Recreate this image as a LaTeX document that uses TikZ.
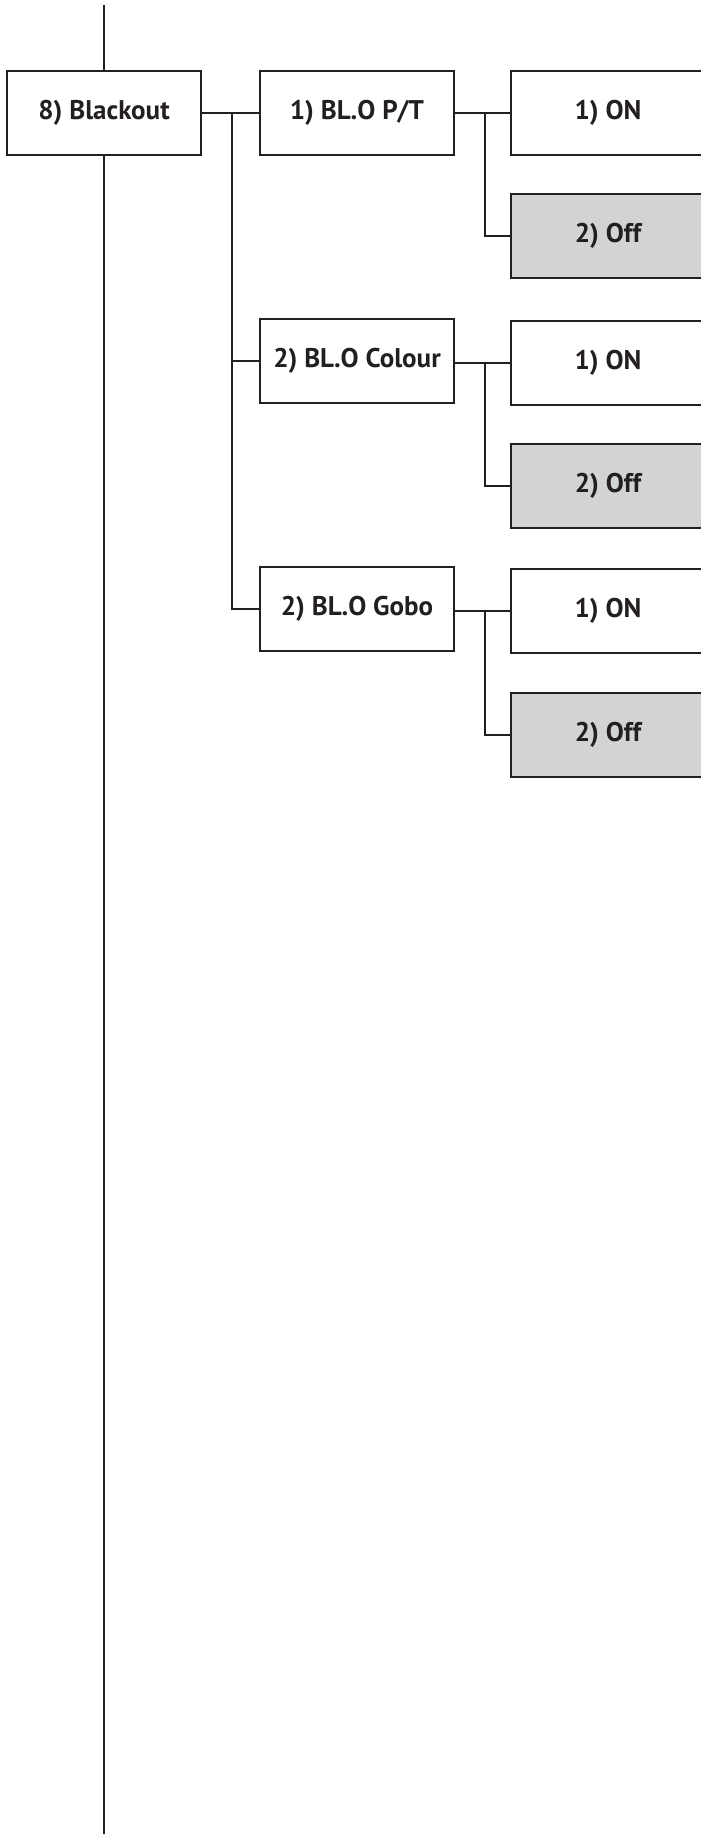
\documentclass[tikz,border=0pt]{standalone}
\usepackage{fontspec}
\setmainfont{PT Sans}
\definecolor{ink}{HTML}{231F20}
\definecolor{offgray}{HTML}{D1D3D4}
\begin{document}
\begin{tikzpicture}[x=1pt,y=-1pt,
  menubox/.style={draw=ink, line width=2pt, minimum width=194pt, minimum height=84pt,
    inner sep=0pt, text=ink, font=\fontsize{27}{31}\selectfont\bfseries},
  offbox/.style={menubox, fill=offgray},
  wire/.style={draw=ink, line width=2pt}]
\useasboundingbox (0,0) rectangle (701,1834);
\node[menubox] (bo) at (104,113) {8) Blackout};
\node[menubox] (pt) at (357,113) {1) BL.O P/T};
\node[menubox] (col) at (357,360.5) {2) BL.O Colour};
\node[menubox] (gob) at (357,608.5) {2) BL.O Gobo};
\node[menubox] (on1) at (608,113) {1) ON};
\node[offbox] (off1) at (608,236) {2) Off};
\node[menubox] (on2) at (608,362.5) {1) ON};
\node[offbox] (off2) at (608,485.5) {2) Off};
\node[menubox] (on3) at (608,611) {1) ON};
\node[offbox] (off3) at (608,734.5) {2) Off};
\coordinate (top) at (104,5);
\coordinate (bot) at (104,1834);
\coordinate (t1) at (231.6,113);
\coordinate (t1b) at (231.6,608.5);
\coordinate (t2) at (485,113);
\coordinate (t3) at (485,362.5);
\coordinate (t4) at (485,611);
\draw[wire] (top) -- (bo.north);
\draw[wire] (bo.south) -- (bot);
\draw[wire] (bo.east) -- (pt.west);
\draw[wire] (t1) -- (t1b) -- (gob.west);
\draw[wire] (t1 |- col.west) -- (col.west);
\draw[wire] (pt.east) -- (on1.west);
\draw[wire] (t2) |- (off1.west);
\draw[wire] (col.east |- on2.west) -- (on2.west);
\draw[wire] (t3) |- (off2.west);
\draw[wire] (gob.east |- on3.west) -- (on3.west);
\draw[wire] (t4) |- (off3.west);
\end{tikzpicture}
\end{document}
